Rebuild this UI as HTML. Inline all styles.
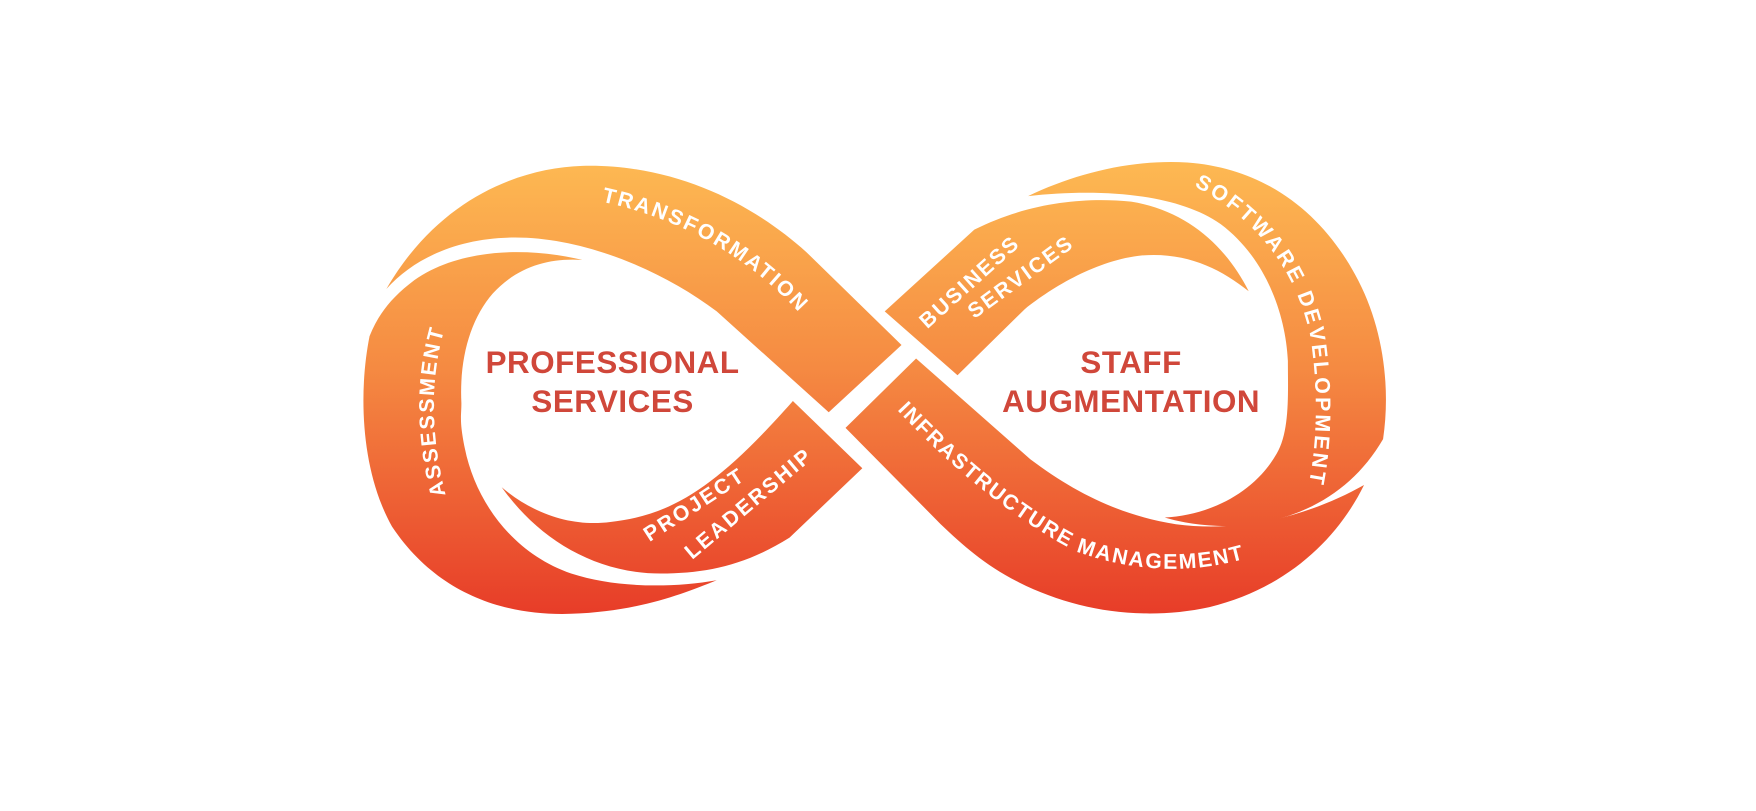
<!DOCTYPE html>
<html><head><meta charset="utf-8"><style>
html,body{margin:0;padding:0;background:#fff;}
svg{display:block;}
.w{font-family:"Liberation Sans",sans-serif;font-weight:bold;fill:#fff;font-size:19px;letter-spacing:2px;}
.c{font-family:"Liberation Sans",sans-serif;font-weight:bold;fill:#d0473a;font-size:28px;text-anchor:middle;letter-spacing:0.5px;}
</style></head><body>
<svg width="1756" height="811" viewBox="0 0 1568 724" xmlns="http://www.w3.org/2000/svg">
<defs>
<linearGradient id="g" gradientUnits="userSpaceOnUse" x1="0" y1="148" x2="0" y2="550">
<stop offset="0" stop-color="#fdb852"/>
<stop offset="0.45" stop-color="#f58a42"/>
<stop offset="1" stop-color="#e73c28"/>
</linearGradient>
<path id="pT" d="M537,180 Q655,205 730,298"/>
<path id="pA" d="M398,442 Q372,340 410,258"/>
<path id="pS" d="M1066,166 Q1150,210 1170,300 Q1182,380 1165,450"/>
<path id="pI" d="M801,366 Q880,450 960,492 Q1060,528 1156,482"/>
</defs>
<g fill="url(#g)">
<path d="M345,258 C390,180 460,150 520,148 C600,146 670,180 720,225 L805,308 L740,368 L640,278 C590,240 520,212 460,212 C410,212 370,230 345,258 Z"/>
<path d="M520,232 C470,220 410,222 370,250 C350,265 338,280 330,300 C320,350 322,420 350,470 C390,530 450,550 510,548 C570,546 610,530 640,518 C600,525 550,525 510,512 C460,495 425,450 415,400 C410,375 412,372 412,360 C410,320 420,285 440,262 C462,238 490,230 520,232 Z"/>
<path d="M448,435 C480,462 515,470 545,466 C600,460 640,435 708,358 L770,418 L705,480 C665,505 630,512 590,512 C530,512 480,480 448,435 Z"/>
<path d="M790,278 L870,205 C920,180 970,176 1010,180 C1060,188 1095,220 1115,260 C1090,240 1060,225 1020,228 C980,232 940,256 915,276 L855,335 Z"/>
<path d="M918,175 C960,155 1010,142 1060,145 C1130,150 1180,190 1210,245 C1235,290 1242,345 1235,392 C1210,435 1170,460 1120,468 C1090,472 1060,468 1040,462 C1080,460 1120,440 1140,405 C1152,385 1150,350 1150,322 C1148,280 1130,230 1090,200 C1050,172 980,168 918,175 Z"/>
<path d="M755,382 L818,320 L920,410 C960,440 1000,460 1050,468 C1110,476 1170,460 1218,433 C1195,480 1150,525 1080,542 C1020,555 960,545 910,520 C880,505 860,487 840,468 Z"/>
</g>
<text class="w"><textPath href="#pT">TRANSFORMATION</textPath></text>
<text class="w"><textPath href="#pA">ASSESSMENT</textPath></text>
<text class="w" style="letter-spacing:2.6px"><textPath href="#pS">SOFTWARE DEVELOPMENT</textPath></text>
<text class="w" style="letter-spacing:1.6px"><textPath href="#pI">INFRASTRUCTURE MANAGEMENT</textPath></text>
<text class="w" transform="translate(580,484) rotate(-33)">PROJECT</text>
<text class="w" transform="translate(618,500) rotate(-40)">LEADERSHIP</text>
<text class="w" transform="translate(828,294) rotate(-42)">BUSINESS</text>
<text class="w" transform="translate(870,285) rotate(-36)">SERVICES</text>
<text class="c" x="547" y="333">PROFESSIONAL</text>
<text class="c" x="547" y="368">SERVICES</text>
<text class="c" x="1010" y="333">STAFF</text>
<text class="c" x="1010" y="368">AUGMENTATION</text>
</svg>
</body></html>
